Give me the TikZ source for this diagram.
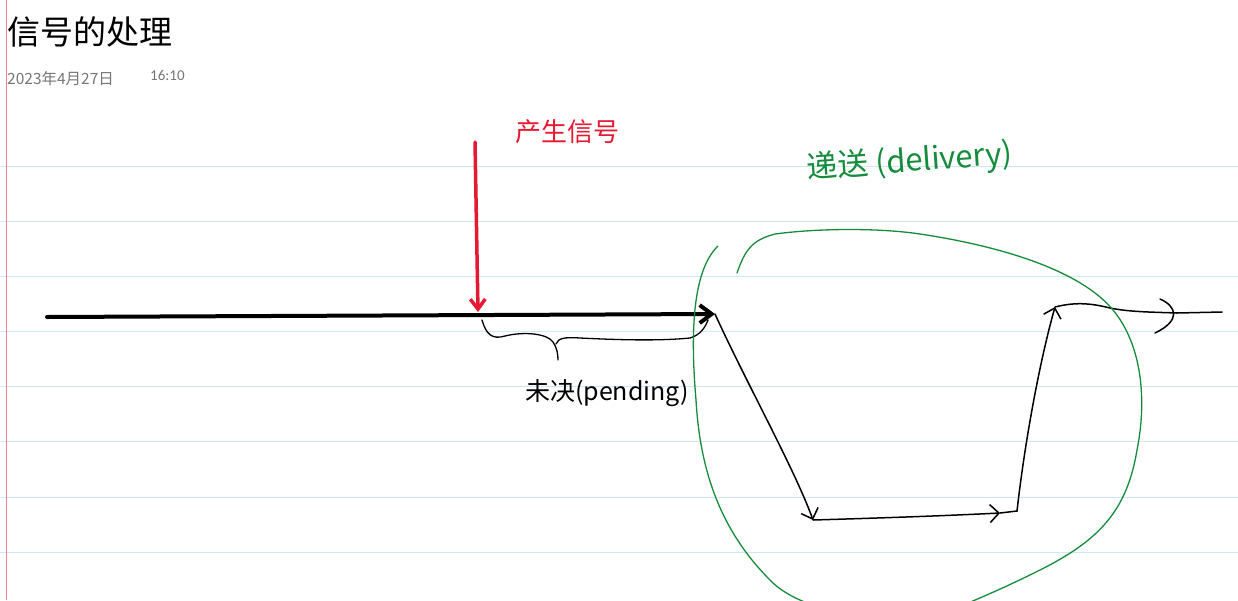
\documentclass[tikz,border=0pt]{standalone}
\usepackage{fontspec}
\newfontfamily\cjk{Noto Sans CJK SC}
\newfontfamily\calib{Carlito}
\usetikzlibrary{arrows.meta}
\definecolor{rulecol}{RGB}{205,232,246}
\definecolor{marginred}{RGB}{240,130,140}
\definecolor{inkred}{RGB}{230,25,50}
\definecolor{inkgreen}{RGB}{20,140,60}
\definecolor{datgray}{RGB}{118,118,118}
\tikzset{
  ruleline/.style={rulecol, line width=1pt},
  thickink/.style={line width=4pt, line cap=round, -{Straight Barb[length=12pt,width=18pt,line width=4pt]}},
  redink/.style={inkred, line width=3.5pt, line cap=round, -{Straight Barb[length=10pt,width=15pt,line width=3.5pt]}},
  thinink/.style={black, line width=1.5pt, line cap=round, line join=round},
  thinarrow/.style={thinink, -{Straight Barb[length=9pt,width=18pt,line width=1.5pt]}},
  greenink/.style={inkgreen, line width=1.3pt, line cap=round},
  hand/.style={font=\cjk, inner sep=0pt}
}
\begin{document}
\begin{tikzpicture}[x=1pt,y=-1pt]
\useasboundingbox (0,0) rectangle (1238,600);
\fill[white] (0,0) rectangle (1238,600);
% ruled lines
\foreach \yy in {166,221,276,331,386,441,497,552}
  \draw[ruleline] (0,\yy) -- (1238,\yy);
\draw[marginred, line width=1pt] (6,0) -- (6,600);
% header
\node[hand, anchor=west, font=\cjk\fontsize{33}{36}\selectfont] (title) at (7,32) {信号的处理};
\node[hand, anchor=west, text=datgray, font=\cjk\fontsize{15.5}{17}\selectfont] (date) at (7,79) {2023年4月27日};
\node[hand, anchor=west, text=datgray, font=\calib\fontsize{15}{17}\selectfont] (time) at (150,75) {16:10};
% labels
\node[hand, text=inkred, font=\cjk\fontsize{26}{30}\selectfont] (produce) at (567,132) {产生信号};
\node[hand, text=inkgreen, font=\cjk\fontsize{31}{34}\selectfont, rotate=4] (deliver) at (910,162) {递送 (delivery)};
\node[hand, font=\cjk\fontsize{25}{28}\selectfont] (pending) at (607,393) {未决(pending)};
% coordinates
\coordinate (start) at (47,317);
\coordinate (tip) at (715,314);
\coordinate (rtop) at (475,142);
\coordinate (rbot) at (478,312);
\coordinate (low1) at (813,520);
\coordinate (mark1) at (1000,513);
\coordinate (low2) at (1017,511);
\coordinate (up) at (1055,307);
\coordinate (mark2) at (1177,313);
\coordinate (fin) at (1222,312);
% main time line
\draw[thickink] (start) -- (tip);
\draw[redink] (rtop) -- (rbot);
% brace
\draw[thinink, line width=1.3pt] (482,320) .. controls (486,334) and (492,340) .. (505,336)
  .. controls (525,331) and (548,334) .. (553,342) .. controls (557,348) and (558,354) .. (558,360);
\draw[thinink, line width=1.3pt] (556,344) .. controls (558,338) and (565,337) .. (580,338)
  .. controls (620,340) and (660,341) .. (690,338) .. controls (700,335) and (705,328) .. (708,320);
% delivery path
\draw[thinarrow] (tip) .. controls (745,380) and (795,470) .. (low1);
\draw[thinarrow] (low1) .. controls (880,518) and (940,516) .. (mark1);
\draw[thinink] (mark1) -- (low2);
\draw[thinarrow] (low2) .. controls (1025,440) and (1040,360) .. (up);
\draw[thinink] (up) .. controls (1075,302) and (1090,303) .. (1110,308) .. controls (1130,312) and (1150,312) .. (mark2);
\draw[thinink] (mark2) -- (fin);
\draw[thinink] (1160,299) .. controls (1176,306) and (1182,320) .. (1155,333);
% green loop
\begin{scope}
\clip (0,0) rectangle (1238,600);
\draw[greenink] (737,273) .. controls (745,250) and (752,240) .. (775,234)
  .. controls (820,228) and (880,228) .. (920,234)
  .. controls (1000,246) and (1080,270) .. (1113,310)
  .. controls (1142,345) and (1147,400) .. (1137,450)
  .. controls (1127,510) and (1100,540) .. (1040,570)
  .. controls (1000,590) and (975,600) .. (940,615)
  .. controls (880,625) and (800,612) .. (770,580)
  .. controls (720,530) and (700,470) .. (696,400)
  .. controls (690,330) and (693,270) .. (718,246);
\end{scope}
\end{tikzpicture}
\end{document}
